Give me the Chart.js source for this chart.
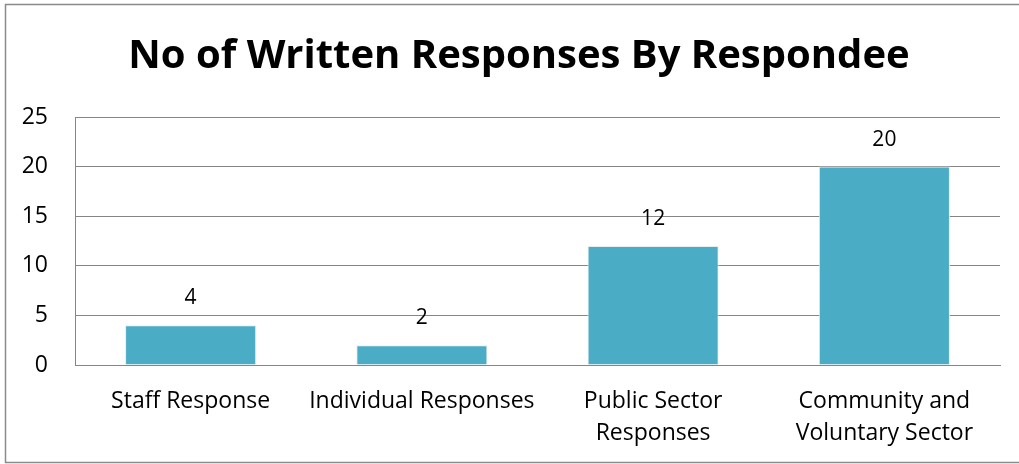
<!DOCTYPE html>
<html>
<head>
<meta charset="utf-8">
<script src="https://cdn.jsdelivr.net/npm/chart.js@4/dist/chart.umd.min.js"></script>
<style>
html,body{margin:0;padding:0;background:#fff;}
#wrap{position:absolute;left:0;top:0;width:1019px;height:464px;}
</style>
</head>
<body>
<div id="wrap"><canvas id="c" width="1019" height="464"></canvas></div>
<script>
const categories = [["Staff Response"], ["Individual Responses"], ["Public Sector", "Responses"], ["Community and", "Voluntary Sector"]];
const values = [4, 2, 12, 20];
const yTicks = [0, 5, 10, 15, 20, 25];
const titleText = "No of Written Responses By Respondee";

const FONT = "'Open Sans', 'Liberation Sans', sans-serif";

const frame = {
  id: 'frame',
  beforeDraw(chart) {
    const ctx = chart.ctx;
    ctx.save();
    ctx.fillStyle = '#fff';
    ctx.fillRect(0, 0, chart.width, chart.height);
    ctx.strokeStyle = '#8a8a8a';
    ctx.lineWidth = 1.5;
    ctx.strokeRect(5.5, 4.5, 1030, 458);
    ctx.restore();
  }
};

const labels = {
  id: 'barLabels',
  afterDatasetsDraw(chart) {
    const ctx = chart.ctx;
    const meta = chart.getDatasetMeta(0);
    ctx.save();
    ctx.font = "21px " + FONT;
    ctx.fillStyle = '#000';
    ctx.textAlign = 'center';
    ctx.textBaseline = 'middle';
    meta.data.forEach((bar, i) => {
      ctx.fillText(String(values[i]), bar.x, bar.y - 27);
    });
    ctx.restore();
  }
};

new Chart(document.getElementById('c'), {
  type: 'bar',
  data: {
    labels: categories,
    datasets: [{
      data: values,
      backgroundColor: '#4BACC6',
      borderColor: '#e6eef1',
      borderWidth: 1,
      categoryPercentage: 1,
      barPercentage: 0.567
    }]
  },
  plugins: [frame, labels],
  options: {
    responsive: false,
    animation: false,
    devicePixelRatio: 1,
    layout: { padding: { left: 19, right: 0, top: 0, bottom: 0 } },
    plugins: {
      legend: { display: false },
      tooltip: { enabled: false },
      title: {
        display: true,
        text: titleText,
        color: '#000',
        font: { family: FONT, size: 40, weight: 'bold', lineHeight: 1.2 },
        padding: { top: 33, bottom: 36 }
      }
    },
    scales: {
      x: {
        grid: { display: false },
        border: { display: true, color: '#868686', width: 1 },
        ticks: {
          color: '#000',
          font: { family: FONT, size: 23, lineHeight: 1.39 },
          padding: 12,
          maxRotation: 0,
          autoSkip: false
        },
        afterFit(scale) { scale.height = 464 - 365; }
      },
      y: {
        min: 0,
        max: 25,
        afterBuildTicks(scale) { scale.ticks = yTicks.map(v => ({ value: v })); },
        grid: { color: '#868686', lineWidth: 1, drawTicks: false },
        border: { display: true, color: '#868686', width: 1 },
        ticks: {
          color: '#000',
          font: { family: FONT, size: 23 },
          padding: 27
        },
        afterFit(scale) { scale.width = 56; }
      },
      yRight: {
        position: 'right',
        min: 0,
        max: 25,
        grid: { display: false, drawOnChartArea: false },
        border: { display: false },
        ticks: { display: false },
        afterFit(scale) { scale.width = 19; }
      }
    }
  }
});
</script>
</body>
</html>
